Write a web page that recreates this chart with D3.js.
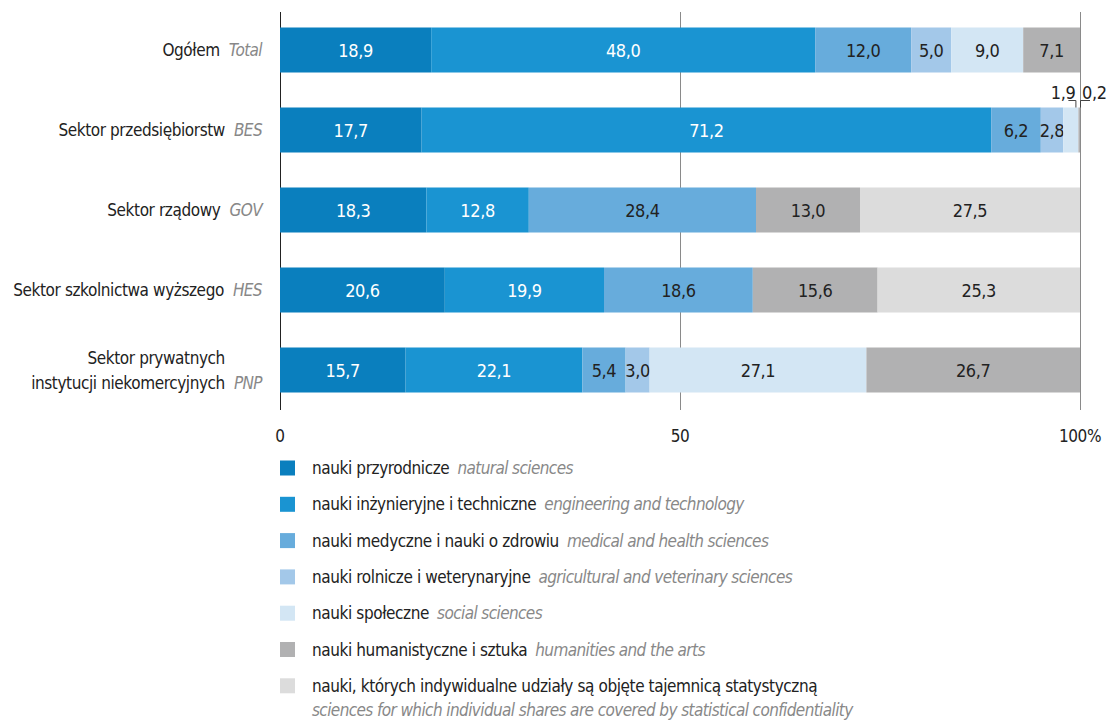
<!DOCTYPE html>
<html><head><meta charset="utf-8">
<script src="https://cdn.jsdelivr.net/npm/d3@7"></script>
<style>
body{margin:0;background:#fff;}
svg text{font-family:"Liberation Sans Narrow","DejaVu Sans Condensed",sans-serif;letter-spacing:-0.4px;}
svg text .it, svg text.it{letter-spacing:-0.6px;}
</style></head>
<body><svg id="c" width="1107" height="721"></svg>
<script>
const categories = ["Ogółem","Sektor przedsiębiorstw","Sektor rządowy","Sektor szkolnictwa wyższego","Sektor prywatnych\ninstytucji niekomercyjnych"];
const categoriesEn = ["Total","BES","GOV","HES","PNP"];
const seriesKeys = ["natural","engineering","medical","agricultural","social","humanities","confidential"];
const seriesPl = ["nauki przyrodnicze","nauki inżynieryjne i techniczne","nauki medyczne i nauki o zdrowiu","nauki rolnicze i weterynaryjne","nauki społeczne","nauki humanistyczne i sztuka","nauki, których indywidualne udziały są objęte tajemnicą statystyczną"];
const seriesEn = ["natural sciences","engineering and technology","medical and health sciences","agricultural and veterinary sciences","social sciences","humanities and the arts","sciences for which individual shares are covered by statistical confidentiality"];
const natural      = [18.9,17.7,18.3,20.6,15.7];
const engineering  = [48.0,71.2,12.8,19.9,22.1];
const medical      = [12.0, 6.2,28.4,18.6, 5.4];
const agricultural = [ 5.0, 2.8, 0,   0,   3.0];
const social       = [ 9.0, 1.9, 0,   0,  27.1];
const humanities   = [ 7.1, 0.2,13.0,15.6,26.7];
const confidential = [ 0,   0,  27.5,25.3, 0  ];
const xTicks = [0,50,100];
const xTickLabels = ["0","50","100%"];

const colors = ["#0a7fbe","#1a94d2","#67acdc","#a3c8e9","#d3e6f4","#b1b1b2","#dcdcdc"];
const textColors = ["#fff","#fff","#222","#222","#222","#222","#222"];

const seriesVals = [natural,engineering,medical,agricultural,social,humanities,confidential];
const rows = categories.map((c,i)=>{const r={cat:c}; seriesKeys.forEach((k,j)=>r[k]=seriesVals[j][i]); return r;});
const stacked = d3.stack().keys(seriesKeys)(rows);

const svg = d3.select("#c");
const x = d3.scaleLinear().domain([0,100]).range([280,1080]);
const y = d3.scaleBand().domain(categories).range([10,410]).paddingInner(0.4375).paddingOuter(0.21875);

// gridlines
svg.append("g").selectAll("line").data(xTicks).join("line")
  .attr("x1",d=>x(d)+0.5).attr("x2",d=>x(d)+0.5).attr("y1",12).attr("y2",410)
  .attr("stroke",d=>d===0?"#222":"#8a8a8a").attr("stroke-width",1);

// axis labels
svg.append("g").selectAll("text").data(xTicks).join("text")
  .attr("x",d=>x(d)).attr("y",442).attr("text-anchor","middle")
  .attr("font-size",17).attr("fill","#222").text((d,i)=>xTickLabels[i]);

// bars
const fmt = v => v.toFixed(1).replace(".",",");
stacked.forEach((s,j)=>{
  const g = svg.append("g");
  g.selectAll("rect").data(s.filter(d=>d[1]-d[0]>0)).join("rect")
    .attr("x",d=>x(d[0])).attr("width",d=>x(d[1])-x(d[0]))
    .attr("y",d=>y(d.data.cat)).attr("height",y.bandwidth())
    .attr("fill",colors[j]);
  g.selectAll("text").data(s.filter(d=>d[1]-d[0]>=2.5)).join("text")
    .attr("x",d=>(x(d[0])+x(d[1]))/2).attr("y",d=>y(d.data.cat)+y.bandwidth()/2+6.5)
    .attr("text-anchor","middle").attr("font-size",18).attr("fill",textColors[j])
    .text(d=>fmt(d[1]-d[0]));
});

// small outside labels with brackets
const smalls=[];
stacked.forEach((s,j)=>s.forEach(d=>{const v=d[1]-d[0]; if(v>0&&v<2.5&&j>=4) smalls.push({d,v});}));
const byCat = d3.group(smalls, o=>o.d.data.cat);
byCat.forEach((arr,cat)=>{
  const top=y(cat);
  arr.forEach((o,k)=>{
    const xe=x(o.d[1]);
    const by=top-7;
    if(k===0){
      svg.append("path").attr("d",`M${xe-10},${by}H${xe-2.5}V${top}`).attr("fill","none").attr("stroke","#444").attr("stroke-width",1);
      svg.append("text").attr("x",xe-3).attr("y",top-9).attr("text-anchor","end").attr("font-size",18).attr("fill","#222").text(fmt(o.v));
    } else {
      svg.append("path").attr("d",`M${xe+10},${by}H${xe+0.5}V${top}`).attr("fill","none").attr("stroke","#444").attr("stroke-width",1);
      svg.append("text").attr("x",xe+2).attr("y",top-9).attr("text-anchor","start").attr("font-size",18).attr("fill","#222").text(fmt(o.v));
    }
  });
});

// category labels
categories.forEach((c,i)=>{
  const cy=y(c)+y.bandwidth()/2;
  const lines=c.split("\n");
  const en=svg.append("text").attr("class","it").attr("x",262).attr("font-size",17).attr("font-style","italic")
    .attr("fill","#888").attr("text-anchor","end").text(categoriesEn[i]);
  const base = lines.length===1 ? cy+6 : cy+6+12.5;
  en.attr("y",base);
  const w=en.node().getComputedTextLength();
  lines.forEach((l,k)=>{
    svg.append("text").attr("x",262-w-9).attr("y",base-(lines.length-1-k)*25)
      .attr("text-anchor","end").attr("font-size",17).attr("fill","#222").text(l);
  });
});

// legend
const lg = svg.append("g");
seriesKeys.forEach((k,i)=>{
  const cy=468+i*36.3;
  lg.append("rect").attr("x",280).attr("y",cy-7.5).attr("width",15).attr("height",15).attr("fill",colors[i]);
  const t=lg.append("text").attr("x",312).attr("y",cy+6).attr("font-size",17);
  t.append("tspan").attr("fill","#222").text(seriesPl[i]);
  if(i<6){
    t.append("tspan").attr("class","it").attr("dx",8).attr("fill","#888").attr("font-style","italic").text(seriesEn[i]);
  } else {
    lg.append("text").attr("class","it").attr("x",312).attr("y",cy+30).attr("font-size",17).attr("fill","#888").attr("font-style","italic").text(seriesEn[i]);
  }
});
</script></body></html>
